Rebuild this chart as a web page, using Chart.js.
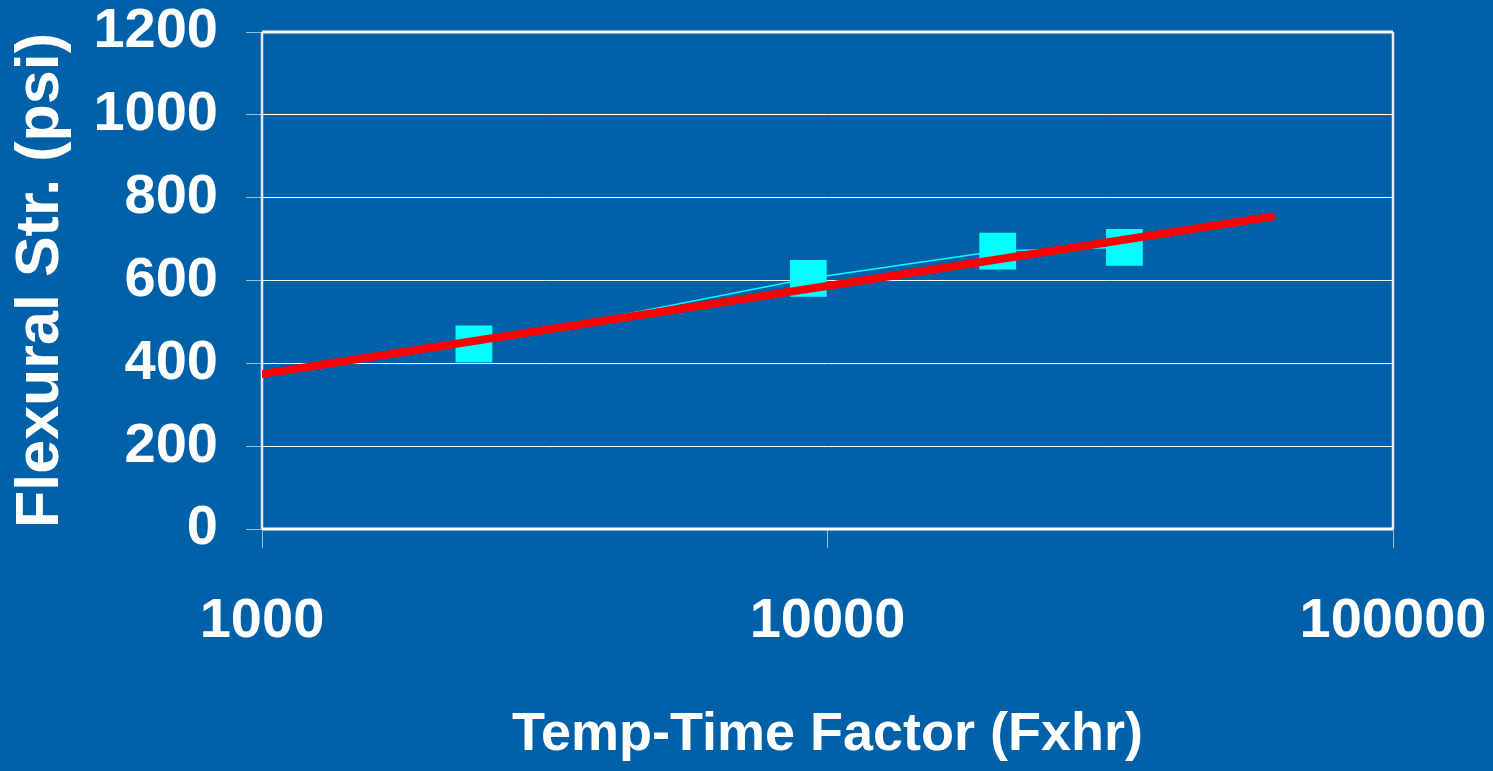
<!DOCTYPE html>
<html>
<head>
<meta charset="utf-8">
<script src="https://cdn.jsdelivr.net/npm/chart.js@4/dist/chart.umd.min.js"></script>
<style>
  html, body { margin: 0; padding: 0; background: #0060A8; overflow: hidden; }
  canvas { display: block; }
</style>
</head>
<body>
<canvas id="myChart" width="1493" height="771"></canvas>
<script>
// measured points
const tempTime = [2370, 9250, 20000, 33500];
const flexStr = [447, 605, 671, 680];

// log trendline end points
const trendX = [1000, 61000];
const trendY = [374, 754];

const xTicks = [1000, 10000, 100000];
const yTicks = [0, 200, 400, 600, 800, 1000, 1200];

const sans = '"Liberation Sans", Arial, sans-serif';

const plotBorder = {
  id: 'plotBorder',
  beforeDatasetsDraw(chart) {
    const { ctx, chartArea: a } = chart;
    ctx.save();
    ctx.strokeStyle = '#e6edf5';
    ctx.lineWidth = 2.5;
    ctx.beginPath();
    ctx.moveTo(a.left, a.top); ctx.lineTo(a.left, a.bottom);
    ctx.moveTo(a.right, a.top); ctx.lineTo(a.right, a.bottom);
    ctx.stroke();
    ctx.strokeStyle = '#ffffff';
    ctx.lineWidth = 3;
    ctx.beginPath();
    ctx.moveTo(a.left, a.top); ctx.lineTo(a.right, a.top);
    ctx.moveTo(a.left, a.bottom); ctx.lineTo(a.right, a.bottom);
    ctx.stroke();
    ctx.restore();
  }
};

new Chart(document.getElementById('myChart'), {
  type: 'scatter',
  data: {
    datasets: [{
      label: 'Trend',
      data: trendX.map((x, i) => ({ x: x, y: trendY[i] })),
      showLine: true,
      borderColor: '#ff0000',
      borderWidth: 8,
      borderCapStyle: 'round',
      pointRadius: 0,
      order: 0
    }, {
      label: 'Flexural Str.',
      data: tempTime.map((x, i) => ({ x: x, y: flexStr[i] })),
      showLine: true,
      borderColor: '#00ffff',
      borderWidth: 1.5,
      backgroundColor: '#00ffff',
      pointStyle: 'rect',
      pointRadius: 26,
      pointBorderWidth: 0,
      order: 1
    }]
  },
  options: {
    responsive: false,
    animation: false,
    layout: { padding: { top: 32, right: 100, left: 0, bottom: 0 } },
    plugins: {
      legend: { display: false },
      tooltip: { enabled: false }
    },
    scales: {
      x: {
        type: 'logarithmic',
        min: 1000,
        max: 100000,
        afterFit: s => { s.height = 242; s.paddingLeft = 0; s.paddingRight = 0; },
        afterBuildTicks: s => { s.ticks = xTicks.map(v => ({ value: v })); },
        border: { display: false },
        grid: {
          drawOnChartArea: false,
          tickLength: 19,
          tickColor: 'rgba(255,255,255,0.6)'
        },
        ticks: {
          color: '#ffffff',
          padding: 46,
          maxRotation: 0,
          font: { family: sans, size: 56, weight: 'bold', lineHeight: 1 },
          callback: v => String(v)
        },
        title: {
          display: true,
          text: 'Temp-Time Factor (Fxhr)',
          color: '#ffffff',
          padding: { top: 0, bottom: 9 },
          font: { family: sans, size: 54, weight: 'bold', lineHeight: 1 }
        }
      },
      y: {
        min: 0,
        max: 1200,
        afterFit: s => { s.width = 262; s.paddingTop = 0; s.paddingBottom = 0; },
        afterBuildTicks: s => { s.ticks = yTicks.map(v => ({ value: v })); },
        border: { display: false },
        grid: {
          color: '#ffffff',
          lineWidth: 1,
          tickLength: 16,
          tickColor: 'rgba(255,255,255,0.6)'
        },
        ticks: {
          color: '#ffffff',
          padding: 28,
          font: { family: sans, size: 56, weight: 'bold', lineHeight: 1 },
          callback: v => String(v)
        },
        title: {
          display: true,
          text: 'Flexural Str. (psi)',
          color: '#ffffff',
          padding: { top: 11, bottom: 0 },
          font: { family: sans, size: 61, weight: 'bold', lineHeight: 1 }
        }
      }
    }
  },
  plugins: [plotBorder]
});
</script>
</body>
</html>
